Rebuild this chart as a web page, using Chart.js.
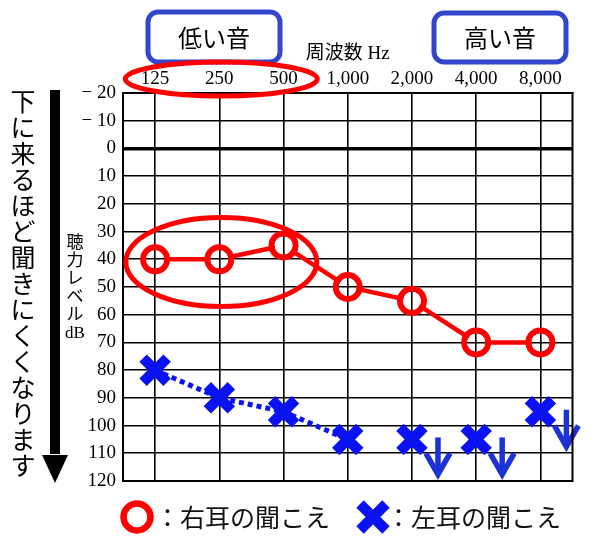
<!DOCTYPE html>
<html>
<head>
<meta charset="utf-8">
<script src="https://cdn.jsdelivr.net/npm/chart.js@4"></script>
<style>
  html, body { margin: 0; padding: 0; background: #fff; }
  canvas { display: block; }
</style>
</head>
<body>
<canvas id="audiogram" width="600" height="541"></canvas>
<script>
// audiogram values (dB HL)
const freqLabels = ['125', '250', '500', '1,000', '2,000', '4,000', '8,000'];
const rightEar = [40, 40, 35, 50, 55, 70, 70];
const leftEar = [80, 90, 95, 105, 105, 105, 95];
const leftNoResponse = [false, false, false, false, true, true, true];

const sideText = '下に来るほど聞きにくくなります';
const yTitleParts = ['聴', '力', 'レ', 'ベ', 'ル', 'dB'];
const xTitle = '周波数 Hz';
const lowLabel = '低い音';
const highLabel = '高い音';
const rightLegend = '右耳の聞こえ';
const leftLegend = '左耳の聞こえ';

const RED = '#ff0000';
const BLUE = '#0a12f2';
const ARROW_BLUE = '#1c32d6';
const BOX_BLUE = '#3346cc';
const SERIF = '"Liberation Serif", "Noto Sans CJK JP", serif';
const GOTHIC = '"Noto Sans CJK JP", "Noto Sans", sans-serif';

// keep the red line out of the open circles
const holeClip = {
    id: 'holeClip',
    beforeDatasetDraw(chart, args) {
        if (args.index !== 0) return;
        const ctx = chart.ctx;
        ctx.save();
        ctx.beginPath();
        ctx.rect(0, 0, chart.width, chart.height);
        args.meta.data.forEach(p => {
            ctx.moveTo(p.x + 9, p.y);
            ctx.arc(p.x, p.y, 9, 0, Math.PI * 2, true);
        });
        ctx.clip('evenodd');
    },
    afterDatasetDraw(chart, args) {
        if (args.index === 0) chart.ctx.restore();
    }
};

// no-response arrows next to the left ear marks
const noResponseArrows = {
    id: 'noResponseArrows',
    afterDatasetsDraw(chart) {
        const ctx = chart.ctx;
        const meta = chart.getDatasetMeta(1);
        ctx.save();
        ctx.strokeStyle = ARROW_BLUE;
        ctx.lineWidth = 5.5;
        ctx.lineJoin = 'miter';
        meta.data.forEach((p, i) => {
            if (!leftNoResponse[i]) return;
            const ax = p.x + 26;
            const tip = p.y + 35;
            ctx.beginPath();
            ctx.moveTo(ax, p.y - 2);
            ctx.lineTo(ax, tip - 2);
            ctx.stroke();
            ctx.beginPath();
            ctx.moveTo(ax - 12, tip - 21);
            ctx.lineTo(ax, tip);
            ctx.lineTo(ax + 12, tip - 21);
            ctx.stroke();
        });
        ctx.restore();
    }
};

const decorations = {
    id: 'decorations',
    afterDraw(chart) {
        const { ctx, chartArea: a, scales: { x, y } } = chart;
        ctx.save();

        // frame
        ctx.strokeStyle = '#000';
        ctx.lineWidth = 2;
        ctx.strokeRect(a.left, a.top, a.right - a.left, a.bottom - a.top);

        // big arrow on the left
        ctx.fillStyle = '#000';
        ctx.fillRect(50, a.top - 3, 10, a.bottom - a.top - 24);
        ctx.beginPath();
        ctx.moveTo(42, a.bottom - 26);
        ctx.lineTo(68, a.bottom - 26);
        ctx.lineTo(55, a.bottom + 2);
        ctx.closePath();
        ctx.fill();

        // vertical texts
        ctx.textAlign = 'center';
        ctx.textBaseline = 'middle';
        ctx.font = '25px ' + GOTHIC;
        [...sideText].forEach((ch, i) => ctx.fillText(ch, 23, 101 + i * 26));
        ctx.font = '17px ' + SERIF;
        yTitleParts.forEach((ch, i) => ctx.fillText(ch, 75, 244 + i * 18));

        // blue boxes
        ctx.strokeStyle = BOX_BLUE;
        ctx.lineWidth = 5;
        ctx.beginPath();
        ctx.roundRect(148, 12, 132, 50, 10);
        ctx.stroke();
        ctx.beginPath();
        ctx.roundRect(434, 13, 132, 49, 10);
        ctx.stroke();
        ctx.fillStyle = '#000';
        ctx.font = '24px ' + GOTHIC;
        ctx.fillText(lowLabel, 214, 38);
        ctx.fillText(highLabel, 500, 38);

        // red ellipses around the low tones
        const cx = (x.getPixelForValue(0) + x.getPixelForValue(2)) / 2 + 2;
        ctx.strokeStyle = RED;
        ctx.lineWidth = 5;
        ctx.beginPath();
        ctx.ellipse(cx, 79, 96, 17, 0, 0, Math.PI * 2);
        ctx.stroke();
        ctx.beginPath();
        ctx.ellipse(cx, y.getPixelForValue(41), 95.5, 44.5, 0, 0, Math.PI * 2);
        ctx.stroke();

        // legend
        const ly = 517;
        ctx.lineWidth = 6.5;
        ctx.beginPath();
        ctx.arc(137, ly, 13.5, 0, Math.PI * 2);
        ctx.stroke();
        ctx.strokeStyle = BLUE;
        ctx.lineWidth = 10.5;
        ctx.beginPath();
        ctx.moveTo(373 - 13, ly - 13);
        ctx.lineTo(373 + 13, ly + 13);
        ctx.moveTo(373 + 13, ly - 13);
        ctx.lineTo(373 - 13, ly + 13);
        ctx.stroke();
        ctx.fillStyle = '#111';
        ctx.textAlign = 'left';
        ctx.font = '25px ' + GOTHIC;
        ctx.fillText('：' + rightLegend, 155, ly);
        ctx.fillText('：' + leftLegend, 386, ly);

        ctx.restore();
    }
};

new Chart(document.getElementById('audiogram').getContext('2d'), {
    type: 'line',
    data: {
        labels: freqLabels,
        datasets: [{
            label: rightLegend,
            data: rightEar,
            borderColor: RED,
            borderWidth: 4.5,
            pointStyle: 'circle',
            pointRadius: 12,
            pointBorderWidth: 6,
            pointBorderColor: RED,
            pointBackgroundColor: 'rgba(0,0,0,0)',
            clip: false
        }, {
            label: leftLegend,
            data: leftEar,
            borderColor: BLUE,
            borderWidth: 5,
            borderDash: [5, 4],
            segment: {
                borderColor: c => leftNoResponse[c.p1DataIndex] ? 'rgba(0,0,0,0)' : BLUE
            },
            pointStyle: 'crossRot',
            pointRadius: 17,
            pointBorderWidth: 10.5,
            pointBorderColor: BLUE,
            pointBackgroundColor: BLUE,
            clip: false
        }]
    },
    options: {
        responsive: false,
        animation: false,
        events: [],
        layout: { padding: { left: 0, right: 15, top: 0, bottom: 60 } },
        plugins: {
            legend: { display: false },
            tooltip: { enabled: false }
        },
        scales: {
            x: {
                type: 'category',
                position: 'top',
                offset: true,
                grid: { offset: false, color: '#000', lineWidth: 1.6, drawTicks: false },
                border: { display: true, color: '#000', width: 2 },
                ticks: {
                    color: '#000',
                    font: { family: SERIF, size: 19 },
                    padding: 3,
                    maxRotation: 0,
                    autoSkip: false
                },
                title: {
                    display: true,
                    text: xTitle,
                    color: '#000',
                    font: { family: SERIF, size: 19 },
                    padding: { top: 43, bottom: 0 }
                },
                afterFit: s => { s.height = 93; }
            },
            y: {
                reverse: true,
                min: -20,
                max: 120,
                grid: {
                    color: '#000',
                    lineWidth: c => (c.tick && c.tick.value === 0) ? 3.5 : 1.6,
                    drawTicks: false
                },
                border: { display: true, color: '#000', width: 2 },
                ticks: {
                    stepSize: 10,
                    color: '#000',
                    font: { family: SERIF, size: 19 },
                    padding: 7,
                    callback: v => v < 0 ? '− ' + (-v) : String(v)
                },
                afterFit: s => { s.width = 123; }
            }
        }
    },
    plugins: [holeClip, noResponseArrows, decorations]
});
</script>
</body>
</html>
